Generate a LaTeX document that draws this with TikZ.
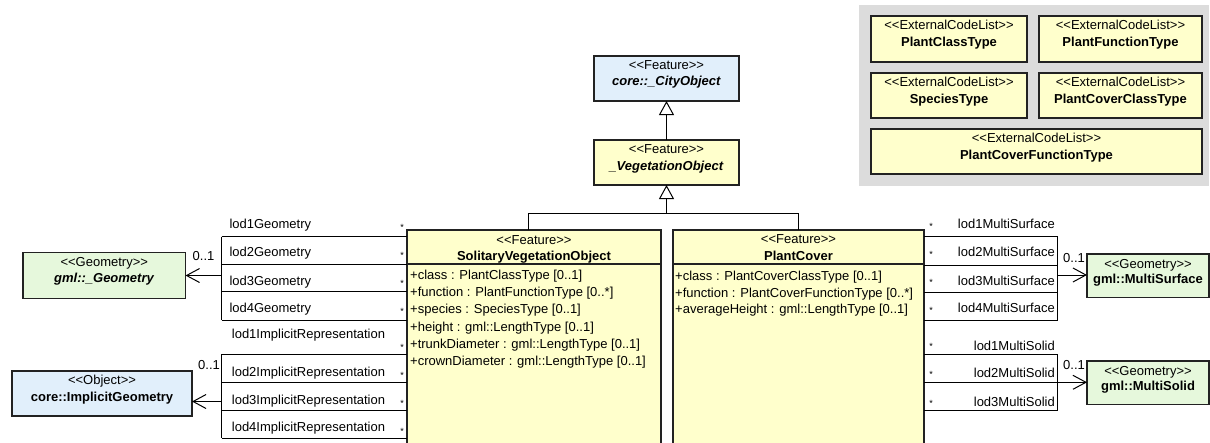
\documentclass[tikz,border=0pt]{standalone}
\usepackage{fontspec}
\setmainfont{Liberation Sans}[Ligatures=TeXOff]
\usetikzlibrary{arrows.meta,calc}
\definecolor{umlyellow}{HTML}{FFFFCC}
\definecolor{umlblue}{HTML}{E1EFFB}
\definecolor{umlgreen}{HTML}{E6F8DC}
\definecolor{umlgrey}{HTML}{DCDCDC}
\definecolor{umlline}{HTML}{222222}
\begin{document}
\begin{tikzpicture}[x=1pt,y=-1pt,
  classbox/.style={draw=umlline, line width=1.2pt, inner sep=0pt, outer sep=0pt, anchor=north west},
  lbl/.style={font=\fontsize{13}{15}\selectfont, inner sep=0pt, text height=9.5pt, text depth=2.5pt},
  star/.style={font=\fontsize{9}{10}\selectfont, inner sep=0pt},
  conn/.style={line width=1pt, black},
  assoc/.style={conn, -{Straight Barb[length=13pt,width=14pt,line width=1pt]}},
  gen/.style={conn, -{Triangle[open,length=14pt,width=15pt,fill=white,line width=1pt]}},
]
\useasboundingbox (0,0) rectangle (1210,442);
\clip (0,0) rectangle (1210,442);

% ---------- code list package ----------
\node[anchor=north west, fill=umlgrey, minimum width=350pt, minimum height=181pt, inner sep=0pt] (pkg) at (859,5) {};
\node[classbox, fill=umlyellow, minimum width=156pt, minimum height=46pt] (pct) at (871,16) {};
\node[classbox, fill=umlyellow, minimum width=163pt, minimum height=46pt] (pft) at (1039,16) {};
\node[classbox, fill=umlyellow, minimum width=156pt, minimum height=45pt] (spt) at (871,73) {};
\node[classbox, fill=umlyellow, minimum width=163pt, minimum height=45pt] (pcct) at (1039,73) {};
\node[classbox, fill=umlyellow, minimum width=331pt, minimum height=45pt] (pcft) at (871,129) {};
\foreach \b/\t in {pct/PlantClassType, pft/PlantFunctionType, spt/SpeciesType, pcct/PlantCoverClassType, pcft/PlantCoverFunctionType}{
  \node[lbl] (\b s) at ([yshift=-10pt]\b.north) {<<ExternalCodeList>>};
  \node[lbl] (\b n) at ([yshift=-27pt]\b.north) {\textbf{\t}};
}

% ---------- classes ----------
\node[classbox, fill=umlblue, minimum width=145pt, minimum height=45pt] (city) at (594,56) {};
\node[lbl] (citys) at ([yshift=-9.7pt]city.north) {<<Feature>>};
\node[lbl] (cityn) at ([yshift=-25.7pt]city.north) {\textbf{\textit{core::\_CityObject}}};

\node[classbox, fill=umlyellow, minimum width=145pt, minimum height=45pt] (veg) at (594,140) {};
\node[lbl] (vegs) at ([yshift=-10pt]veg.north) {<<Feature>>};
\node[lbl] (vegn) at ([yshift=-26.5pt]veg.north) {\textbf{\textit{\_VegetationObject}}};

\node[classbox, fill=umlyellow, minimum width=254pt, minimum height=230pt] (svo) at (407,230) {};
\draw[umlline, line width=1.2pt] ([yshift=-34pt]svo.north west) -- ([yshift=-34pt]svo.north east);
\node[lbl] (svos) at ([yshift=-10.5pt]svo.north) {<<Feature>>};
\node[lbl] (svon) at ([yshift=-26.5pt]svo.north) {\textbf{SolitaryVegetationObject}};
\node[lbl, anchor=west] (sa1) at (410,275.7) {+class : PlantClassType [0..1]};
\node[lbl, anchor=west] (sa2) at (410,293.0) {+function : PlantFunctionType [0..*]};
\node[lbl, anchor=west] (sa3) at (410,310.3) {+species : SpeciesType [0..1]};
\node[lbl, anchor=west] (sa4) at (410,327.6) {+height : gml::LengthType [0..1]};
\node[lbl, anchor=west] (sa5) at (410,344.9) {+trunkDiameter : gml::LengthType [0..1]};
\node[lbl, anchor=west] (sa6) at (410,362.2) {+crownDiameter : gml::LengthType [0..1]};

\node[classbox, fill=umlyellow, minimum width=251pt, minimum height=230pt] (pc) at (673,230) {};
\draw[umlline, line width=1.2pt] ([yshift=-34pt]pc.north west) -- ([yshift=-34pt]pc.north east);
\node[lbl] (pcs) at ([yshift=-10pt]pc.north) {<<Feature>>};
\node[lbl] (pcn) at ([yshift=-26.5pt]pc.north) {\textbf{PlantCover}};
\node[lbl, anchor=west] (pa1) at (675,276.7) {+class : PlantCoverClassType [0..1]};
\node[lbl, anchor=west] (pa2) at (675,293.5) {+function : PlantCoverFunctionType [0..*]};
\node[lbl, anchor=west] (pa3) at (675,310.3) {+averageHeight : gml::LengthType [0..1]};

\node[classbox, fill=umlgreen, minimum width=162.5pt, minimum height=46pt] (geom) at (23,252.3) {};
\node[lbl] (geoms) at ([yshift=-11pt]geom.north) {<<Geometry>>};
\node[lbl] (geomn) at ([yshift=-27pt]geom.north) {\textbf{\textit{gml::\_Geometry}}};

\node[classbox, fill=umlblue, minimum width=180pt, minimum height=45pt] (impl) at (12,371) {};
\node[lbl] (impls) at ([yshift=-9.5pt]impl.north) {<<Object>>};
\node[lbl] (impln) at ([yshift=-27pt]impl.north) {\textbf{core::ImplicitGeometry}};

\node[classbox, fill=umlgreen, minimum width=122pt, minimum height=43.7pt] (msurf) at (1087,254) {};
\node[lbl] (msurfs) at ([yshift=-11pt]msurf.north) {<<Geometry>>};
\node[lbl] (msurfn) at ([yshift=-26pt]msurf.north) {\textbf{gml::MultiSurface}};

\node[classbox, fill=umlgreen, minimum width=122pt, minimum height=43.5pt] (msolid) at (1087,361) {};
\node[lbl] (msolids) at ([yshift=-10.7pt]msolid.north) {<<Geometry>>};
\node[lbl] (msolidn) at ([yshift=-25.7pt]msolid.north) {\textbf{gml::MultiSolid}};

% ---------- generalizations ----------
\draw[gen] (veg.north) -- (city.south);
\coordinate (gj) at (666.5,213);
\coordinate (gl) at (528,213);
\coordinate (gr) at (pc.north |- gj);
\draw[conn] (gl |- svo.north) -- (gl) -- (gr) -- (pc.north);
\draw[gen] (gj) -- (veg.south);

% ---------- left: geometry ----------
\coordinate (gv1) at (221.7,236.7);
\coordinate (gv2) at (221.7,264.3);
\coordinate (gv3) at (221.7,291.7);
\coordinate (gv4) at (221.7,320);
\coordinate (ga) at (221.7,275.5);
\draw[conn] (gv1) -- (gv4);
\foreach \i in {1,...,4}{ \draw[conn] (gv\i) -- (gv\i -| svo.west); }
\draw[assoc] (ga) -- (ga -| geom.east);
\node[lbl] (g01) at (203.5,256.5) {0..1};
\node[lbl, anchor=west] (gl1) at (229.3,225) {lod1Geometry};
\node[lbl, anchor=west] (gl2) at (229.3,253.3) {lod2Geometry};
\node[lbl, anchor=west] (gl3) at (229.3,281.7) {lod3Geometry};
\node[lbl, anchor=west] (gl4) at (229.3,309.3) {lod4Geometry};
\node[star] (gs1) at (402,227.5) {*};
\node[star] (gs2) at (402,255) {*};
\node[star] (gs3) at (402,283.5) {*};
\node[star] (gs4) at (402,311) {*};

% ---------- left: implicit ----------
\coordinate (iv1) at (221.7,354);
\coordinate (iv2) at (221.7,382.3);
\coordinate (iv3) at (221.7,410);
\coordinate (iv4) at (221.7,438.3);
\coordinate (ia) at (221.7,401.5);
\draw[conn] (iv1) -- (iv4);
\foreach \i in {1,...,4}{ \draw[conn] (iv\i) -- (iv\i -| svo.west); }
\draw[assoc] (ia) -- (ia -| impl.east);
\node[lbl] (i01) at (209,366) {0..1};
\node[lbl, anchor=west] (il1) at (231.7,335) {lod1ImplicitRepresentation};
\node[lbl, anchor=west] (il2) at (231.7,372.7) {lod2ImplicitRepresentation};
\node[lbl, anchor=west] (il3) at (231.7,400.7) {lod3ImplicitRepresentation};
\node[lbl, anchor=west] (il4) at (231.7,428) {lod4ImplicitRepresentation};
\node[star] (is1) at (402,347) {*};
\node[star] (is2) at (402,375) {*};
\node[star] (is3) at (402,403) {*};
\node[star] (is4) at (402,431) {*};

% ---------- right: multisurface ----------
\coordinate (sv1) at (1057.7,236.7);
\coordinate (sv2) at (1057.7,265);
\coordinate (sv3) at (1057.7,292.7);
\coordinate (sv4) at (1057.7,320);
\coordinate (sa) at (1057.7,275);
\draw[conn] (sv1) -- (sv4);
\foreach \i in {1,...,4}{ \draw[conn] (sv\i -| pc.east) -- (sv\i); }
\draw[assoc] (sa) -- (sa -| msurf.west);
\node[lbl] (s01) at (1074,259) {0..1};
\node[lbl, anchor=east] (sl1) at (1055,225) {lod1MultiSurface};
\node[lbl, anchor=east] (sl2) at (1055,253.3) {lod2MultiSurface};
\node[lbl, anchor=east] (sl3) at (1055,281.7) {lod3MultiSurface};
\node[lbl, anchor=east] (sl4) at (1055,309.3) {lod4MultiSurface};
\node[star] (ss1) at (931,226) {*};
\node[star] (ss2) at (931,254) {*};
\node[star] (ss3) at (931,282) {*};
\node[star] (ss4) at (931,310.5) {*};

% ---------- right: multisolid ----------
\coordinate (dv1) at (1057.7,354.3);
\coordinate (dv2) at (1057.7,382.3);
\coordinate (dv3) at (1057.7,410);
\draw[conn] (dv1) -- (dv3);
\foreach \i in {1,...,3}{ \draw[conn] (dv\i -| pc.east) -- (dv\i); }
\draw[assoc] (dv2) -- (dv2 -| msolid.west);
\node[lbl] (d01) at (1074,366) {0..1};
\node[lbl, anchor=east] (dl1) at (1055,346.7) {lod1MultiSolid};
\node[lbl, anchor=east] (dl2) at (1055,374) {lod2MultiSolid};
\node[lbl, anchor=east] (dl3) at (1055,402.7) {lod3MultiSolid};
\node[star] (ds1) at (931,346) {*};
\node[star] (ds2) at (931,374.5) {*};
\node[star] (ds3) at (931,403) {*};
\end{tikzpicture}
\end{document}
